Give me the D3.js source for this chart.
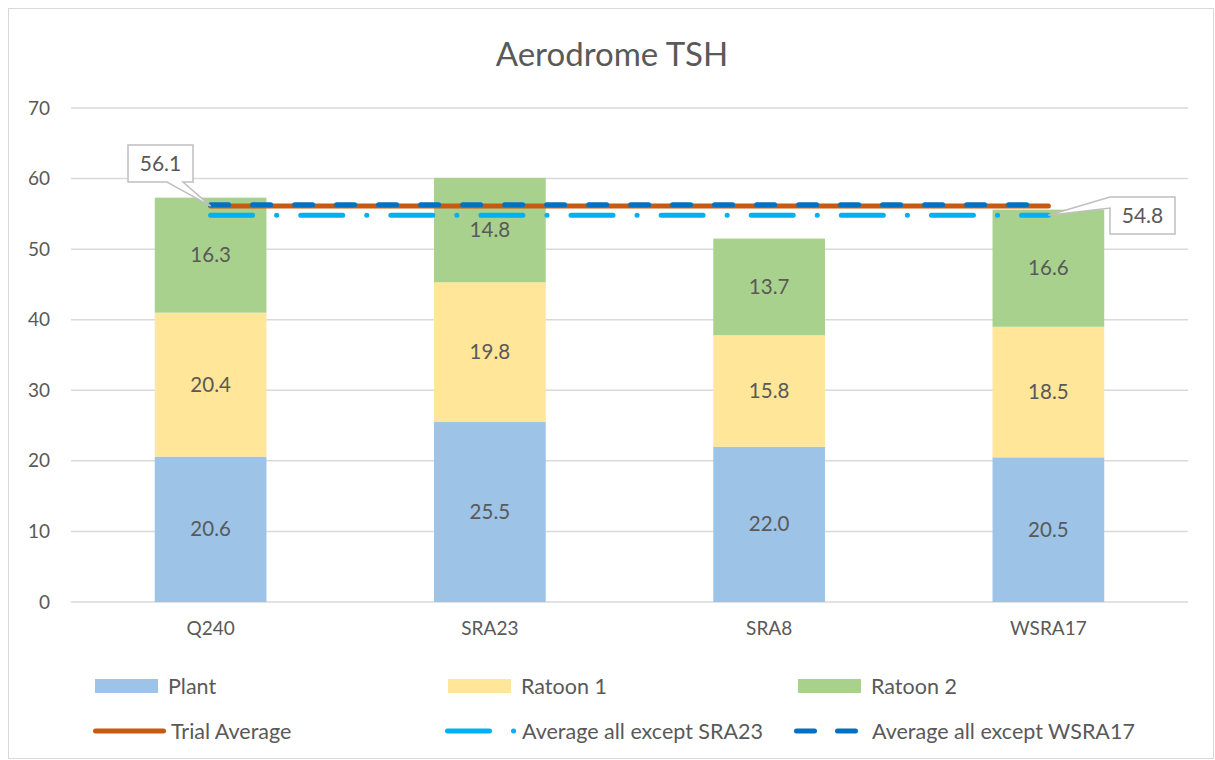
<!DOCTYPE html>
<html>
<head>
<meta charset="utf-8">
<script src="https://cdn.jsdelivr.net/npm/d3@7"></script>
<style>
  body { margin: 0; background: #fff; }
  svg text { font-family: Lato, "Liberation Sans", sans-serif; fill: #595959; }
</style>
</head>
<body>
<script>
// data
const varieties = ['Q240', 'SRA23', 'SRA8', 'WSRA17']
const plant = [20.6, 25.5, 22.0, 20.5]
const ratoon1 = [20.4, 19.8, 15.8, 18.5]
const ratoon2 = [16.3, 14.8, 13.7, 16.6]
const trialAverage = 56.1
const avgExceptSRA23 = 54.8
const avgExceptWSRA17 = 56.3
const yTicks = [0, 10, 20, 30, 40, 50, 60, 70]

const seriesNames = ['Plant', 'Ratoon 1', 'Ratoon 2']
const seriesColors = ['#9DC3E6', '#FFE699', '#A9D18E']

const W = 1215, H = 760
const margin = {top: 108, right: 27, bottom: 158, left: 71}
const width = W - margin.left - margin.right
const height = H - margin.top - margin.bottom

const svg = d3.select('body').append('svg')
  .attr('width', W)
  .attr('height', H)

// chart border
svg.append('rect')
  .attr('x', 8.5).attr('y', 8.5)
  .attr('width', W - 10).attr('height', H - 10)
  .attr('fill', 'none').attr('stroke', '#D9D9D9')

svg.append('text')
  .attr('x', 612).attr('y', 66)
  .attr('text-anchor', 'middle')
  .attr('font-size', 33)
  .text('Aerodrome TSH')

const g = svg.append('g')
  .attr('transform', `translate(${margin.left},${margin.top})`)

const x = d3.scaleBand()
  .domain(varieties)
  .range([0, width])
  .paddingInner(0.6)
  .paddingOuter(0.3)

const y = d3.scaleLinear()
  .domain([0, 70])
  .range([height, 0])

// gridlines
g.append('g')
  .selectAll('line')
  .data(yTicks)
  .join('line')
  .attr('x1', 0).attr('x2', width)
  .attr('y1', d => y(d)).attr('y2', d => y(d))
  .attr('stroke', '#D9D9D9')
  .attr('stroke-width', 1.5)

// y axis
const yAxis = d3.axisLeft(y).tickValues(yTicks).tickSize(0).tickPadding(21)
g.append('g').call(yAxis)
  .call(a => a.select('.domain').remove())
  .selectAll('text')
  .attr('font-size', 19)
  .attr('fill', '#595959')

// x axis
const xAxis = d3.axisBottom(x).tickSize(0).tickPadding(20)
g.append('g')
  .attr('transform', `translate(0,${height})`)
  .call(xAxis)
  .call(a => a.select('.domain').remove())
  .selectAll('text')
  .attr('font-size', 19)
  .attr('fill', '#595959')

// stacked bars
const rows = varieties.map((v, i) => ({name: v, Plant: plant[i], 'Ratoon 1': ratoon1[i], 'Ratoon 2': ratoon2[i]}))
const stack = d3.stack().keys(seriesNames)(rows)

const layers = g.selectAll('.layer')
  .data(stack)
  .join('g')
  .attr('class', 'layer')
  .attr('fill', (d, i) => seriesColors[i])

layers.selectAll('rect')
  .data(d => d)
  .join('rect')
  .attr('x', d => x(d.data.name))
  .attr('width', x.bandwidth())
  .attr('y', d => y(d[1]))
  .attr('height', d => y(d[0]) - y(d[1]))

layers.selectAll('text')
  .data(d => d)
  .join('text')
  .attr('x', d => x(d.data.name) + x.bandwidth() / 2)
  .attr('y', d => (y(d[0]) + y(d[1])) / 2 + 7)
  .attr('text-anchor', 'middle')
  .attr('font-size', 20.5)
  .attr('fill', '#404040')
  .text(d => (d[1] - d[0]).toFixed(1))

// average lines from first to last category centre
const xStart = x(varieties[0]) + x.bandwidth() / 2
const xEnd = x(varieties[varieties.length - 1]) + x.bandwidth() / 2

const lines = [
  {value: trialAverage, color: '#C55A11', dash: null},
  {value: avgExceptSRA23, color: '#00B0F0', dash: '42 24 0.1 24'},
  {value: avgExceptWSRA17, color: '#0070C0', dash: '18 24'}
]

g.selectAll('.avg')
  .data(lines)
  .join('line')
  .attr('class', 'avg')
  .attr('x1', xStart).attr('x2', xEnd)
  .attr('y1', d => y(d.value)).attr('y2', d => y(d.value))
  .attr('stroke', d => d.color)
  .attr('stroke-width', 5)
  .attr('stroke-linecap', 'round')
  .attr('stroke-dasharray', d => d.dash)

// callouts (box positions in page pixels)
const bw = 65, bh = 37
function callout(value, tipX, bx, by, pathFn) {
  const tx = tipX + margin.left, ty = y(value) + margin.top
  svg.append('path')
    .attr('d', pathFn(bx, by, tx, ty))
    .attr('fill', '#fff')
    .attr('stroke', '#BFBFBF')
    .attr('stroke-width', 1.5)
  svg.append('text')
    .attr('x', bx + bw / 2)
    .attr('y', by + bh / 2 + 7.5)
    .attr('text-anchor', 'middle')
    .attr('font-size', 21)
    .text(value.toFixed(1))
}
// pointer from bottom edge
callout(trialAverage, xStart, 128, 145,
  (bx, by, tx, ty) => `M${bx},${by} H${bx + bw} V${by + bh} H${bx + 55} L${tx},${ty} L${bx + 39},${by + bh} H${bx} Z`)
// pointer from left edge
callout(avgExceptSRA23, xEnd, 1110, 197,
  (bx, by, tx, ty) => `M${bx},${by} H${bx + bw} V${by + bh} H${bx} V${by + 11} L${tx},${ty} Z`)

// legend
const legendRow1 = [
  {name: 'Plant', color: seriesColors[0], x: 95},
  {name: 'Ratoon 1', color: seriesColors[1], x: 448},
  {name: 'Ratoon 2', color: seriesColors[2], x: 798}
]
legendRow1.forEach(d => {
  svg.append('rect')
    .attr('x', d.x).attr('y', 679)
    .attr('width', 63).attr('height', 14)
    .attr('fill', d.color)
  svg.append('text')
    .attr('x', d.x + 73).attr('y', 694)
    .attr('font-size', 21.5)
    .text(d.name)
})

const legendRow2 = [
  {name: 'Trial Average', color: lines[0].color, dash: null, x1: 95.5, x2: 163.5, tx: 171},
  {name: 'Average all except SRA23', color: lines[1].color, dash: '42 24 0.1 30', x1: 447.5, x2: 514, tx: 522},
  {name: 'Average all except WSRA17', color: lines[2].color, dash: '18 23', x1: 796.5, x2: 856, tx: 872}
]
legendRow2.forEach(d => {
  svg.append('line')
    .attr('x1', d.x1).attr('x2', d.x2)
    .attr('y1', 731).attr('y2', 731)
    .attr('stroke', d.color)
    .attr('stroke-width', 5)
    .attr('stroke-linecap', 'round')
    .attr('stroke-dasharray', d.dash)
  svg.append('text')
    .attr('x', d.tx).attr('y', 738.5)
    .attr('font-size', 21.5)
    .text(d.name)
})
</script>
</body>
</html>
